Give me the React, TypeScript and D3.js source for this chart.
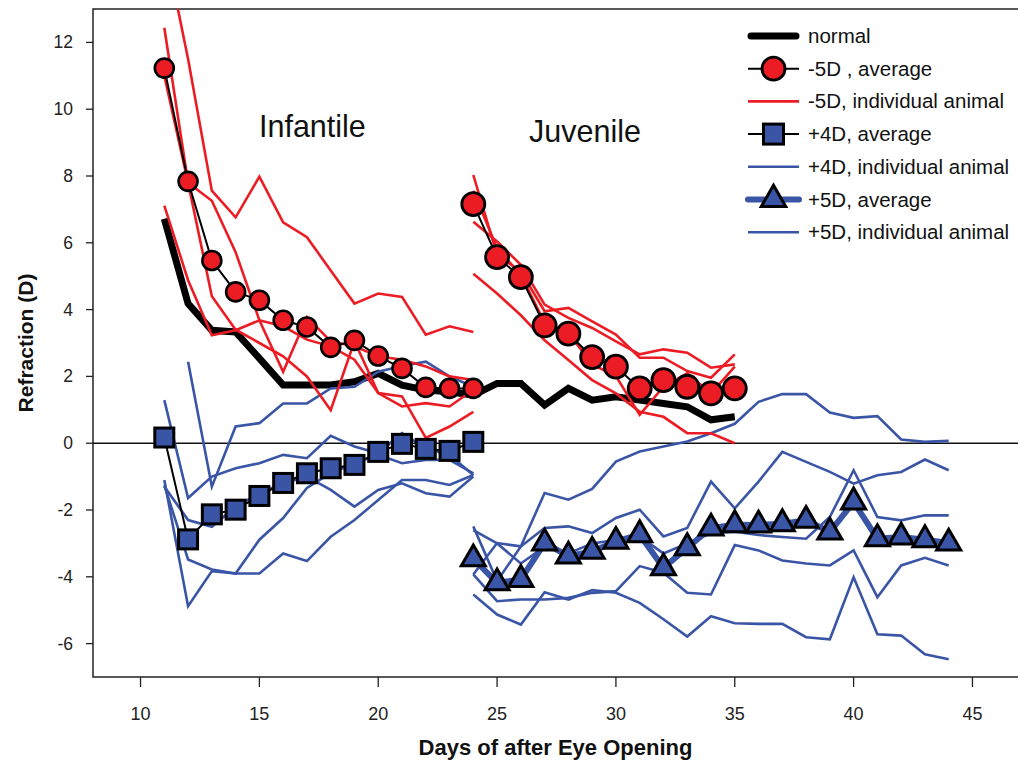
import React from 'react';
import * as d3 from 'd3';

const W = 1018, H = 764;

// days on the x axis
const infantDays = [11, 12, 13, 14, 15, 16, 17, 18, 19, 20, 21, 22, 23, 24];
const juvDays = [24, 25, 26, 27, 28, 29, 30, 31, 32, 33, 34, 35];
const lateDays = [24, 25, 26, 27, 28, 29, 30, 31, 32, 33, 34, 35, 36, 37, 38, 39, 40, 41, 42, 43, 44];
const normalDays = [11, 12, 13, 14, 15, 16, 17, 18, 19, 20, 21, 22, 23, 24, 25, 26, 27, 28, 29, 30, 31, 32, 33, 34, 35];

// normal animals
const normal = [6.72, 4.18, 3.38, 3.33, 2.54, 1.74, 1.74, 1.74, 1.84, 2.09, 1.74, 1.59, 1.54, 1.44, 1.79, 1.79, 1.14, 1.64, 1.29, 1.39, 1.29, 1.19, 1.09, 0.70, 0.79];

// -5D, infantile and juvenile
const minus5InfAvg = [11.23, 7.84, 5.47, 4.53, 4.28, 3.68, 3.48, 2.87, 3.08, 2.61, 2.24, 1.67, 1.64, 1.64];
const minus5JuvAvg = [7.16, 5.57, 4.97, 3.53, 3.28, 2.58, 2.29, 1.64, 1.89, 1.69, 1.49, 1.64];
const minus5InfA = [15.0, 11.5, 7.56, 6.76, 7.98, 6.61, 6.17, 5.17, 4.18, 4.48, 4.38, 3.25, 3.50, 3.33];
const minus5InfB = [12.44, 7.8, 7.26, 5.72, 3.68, 2.14, 3.78, 3.05, 2.9, 2.6, 2.5, 2.3, 2.0, 1.89];
const minus5InfC = [11.0, 7.8, 4.4, 3.4, 3.0, 2.6, 2.0, 0.99, 3.05, 1.5, 1.4, 0.16, 0.5, 0.94];
const minus5InfD = [7.11, 4.88, 3.23, 3.38, 3.68, 3.5, 3.1, 2.9, 2.5, 1.5, 1.1, 1.2, 1.1, 1.6];
const minus5JuvA = [8.03, 5.64, 5.14, 3.95, 4.05, 3.65, 3.25, 2.56, 2.56, 2.16, 1.96, 2.66];
const minus5JuvB = [6.63, 6.04, 5.34, 4.15, 3.75, 3.45, 3.05, 2.66, 2.81, 2.71, 2.26, 2.36];
const minus5JuvC = [5.07, 4.48, 3.83, 3.08, 2.49, 1.89, 1.49, 0.94, 0.79, 0.3, 0.3, 0.0];
const minus5JuvD = [7.56, 5.84, 5.04, 3.61, 3.31, 2.36, 2.01, 0.85, 1.69, 2.09, 1.49, 2.29];

// +4D, infantile
const plus4Avg = [0.17, -2.88, -2.13, -1.99, -1.58, -1.19, -0.9, -0.75, -0.65, -0.26, -0.02, -0.17, -0.23, 0.04];
const plus4A = [1.29, -1.64, -1.0, -0.75, -0.6, -0.35, -0.45, 0.22, -0.1, -0.3, 0.3, -0.15, -0.35, -0.95];
const plus4B = [null, 2.44, -1.3, 0.5, 0.6, 1.19, 1.19, 1.64, 1.69, 2.14, 2.31, 2.44, 2.0, 1.69];
const plus4C = [-1.1, -4.88, -3.83, -3.9, -3.9, -3.3, -3.53, -2.8, -2.3, -1.7, -1.1, -1.1, -1.25, -0.95];
const plus4D = [-1.26, -3.48, -3.78, -3.9, -2.89, -2.24, -1.34, -0.9, -0.6, -0.35, -0.6, -0.5, -0.5, -0.9];
const plus4E = [-1.3, -2.3, -2.5, -1.9, -1.5, -1.2, -1.0, -1.4, -1.9, -1.4, -1.2, -1.5, -1.6, -1.0];

// +5D, juvenile
const plus5Avg = [-3.46, -4.18, -4.08, -2.99, -3.38, -3.24, -2.94, -2.74, -3.73, -3.13, -2.54, -2.44, -2.45, -2.41, -2.31, -2.66, -1.76, -2.86, -2.81, -2.89, -2.99];
const plus5A = [-2.49, -4.13, -3.09, -1.49, -1.69, -1.37, -0.55, -0.25, -0.1, 0.05, 0.3, 0.58, 1.24, 1.47, 1.47, 0.92, 0.76, 0.81, 0.11, 0.04, 0.07];
const plus5B = [-3.93, -2.99, -3.09, -2.54, -2.49, -2.69, -2.24, -1.99, -2.79, -2.54, -1.15, -1.95, -1.15, -0.26, -0.56, -0.86, -1.21, -0.96, -0.86, -0.49, -0.81];
const plus5C = [-3.93, -4.73, -4.68, -4.68, -4.63, -4.48, -4.43, -3.68, -3.88, -4.48, -4.53, -3.05, -3.21, -3.51, -3.6, -3.66, -3.21, -4.61, -3.66, -3.43, -3.66];
const plus5D = [-4.53, -5.13, -5.43, -4.46, -4.68, -4.4, -4.48, -4.78, -5.27, -5.79, -5.18, -5.39, -5.41, -5.41, -5.81, -5.87, -4.01, -5.72, -5.76, -6.32, -6.47];
const plus5E = [-2.6, -3.0, -3.6, -3.1, -3.3, -3.0, -2.9, -2.8, -3.3, -3.0, -2.7, -2.65, -2.75, -2.81, -2.86, -2.21, -0.81, -2.21, -2.31, -2.16, -2.16];

const yTicks = [-6, -4, -2, 0, 2, 4, 6, 8, 10, 12];
const xTicks = [10, 15, 20, 25, 30, 35, 40, 45];

const legendLabels = ['normal', '-5D , average', '-5D, individual animal', '+4D, average', '+4D, individual animal', '+5D, average', '+5D, individual animal'];

const RED = '#ec1c24';
const BLUE = '#3a55a5';
const FONT = '"Liberation Sans", Arial, sans-serif';
const NARROW = '"Liberation Sans Narrow", "Liberation Sans", Arial, sans-serif';

const App = () => {
    const margin = {left: 93, top: 9, right: 1020, bottom: 677};

    const x = d3.scaleLinear().domain([8, 47]).range([margin.left, margin.right]);
    const y = d3.scaleLinear().domain([-7, 13]).range([margin.bottom, margin.top]);

    const line = d3.line<[number, number | null]>()
        .defined(d => d[1] !== null)
        .x(d => x(d[0]))
        .y(d => y(d[1] as number));

    const path = (days: number[], vals: (number | null)[]) =>
        line(days.map((d, i) => [d, vals[i]] as [number, number | null])) || '';

    const tri = d3.symbol().type(d3.symbolTriangle).size(250)();
    const triSmall = d3.symbol().type(d3.symbolTriangle).size(260)();

    const redInd = [[infantDays, minus5InfA], [infantDays, minus5InfB], [infantDays, minus5InfC], [infantDays, minus5InfD],
        [juvDays, minus5JuvA], [juvDays, minus5JuvB], [juvDays, minus5JuvC], [juvDays, minus5JuvD]];
    const blueInd = [plus4A, plus4B, plus4C, plus4D, plus4E];
    const blueJuv = [plus5A, plus5B, plus5C, plus5D, plus5E];

    const legX0 = 748, legX1 = 799, legText = 808;
    const legY = (i: number) => 36 + i * 32.7;

    return (
        <div style={{position: 'absolute', left: 0, top: 0, width: W, height: H, overflow: 'hidden', background: '#fff'}}>
            <svg width={W} height={H} style={{display: 'block'}}>
                <defs>
                    <clipPath id="plot">
                        <rect x={margin.left} y={margin.top} width={margin.right - margin.left} height={margin.bottom - margin.top}/>
                    </clipPath>
                </defs>
                <rect width={W} height={H} fill="#fff"/>

                {/* frame */}
                <rect x={margin.left} y={margin.top} width={margin.right + 10 - margin.left} height={margin.bottom - margin.top}
                      fill="none" stroke="#222" strokeWidth={1.5}/>
                <line x1={margin.left} x2={W} y1={y(0)} y2={y(0)} stroke="#111" strokeWidth={1.6}/>

                {/* y axis */}
                {yTicks.map(t => (
                    <g key={'y' + t}>
                        <line x1={margin.left - 7} x2={margin.left} y1={y(t)} y2={y(t)} stroke="#222" strokeWidth={1.3}/>
                        <text x={73} y={y(t) + 6} textAnchor="end" fontSize={17.5} fontFamily={FONT} fill="#222">{t}</text>
                    </g>
                ))}
                <text transform={`translate(33, ${y(3)}) rotate(-90)`} textAnchor="middle" fontSize={21}
                      fontWeight="bold" fontFamily={FONT} fill="#111">Refraction (D)</text>

                {/* x axis */}
                {xTicks.map(t => (
                    <g key={'x' + t}>
                        <line x1={x(t)} x2={x(t)} y1={margin.bottom} y2={margin.bottom + 10} stroke="#222" strokeWidth={1.3}/>
                        <text x={x(t)} y={720} textAnchor="middle" fontSize={18} fontFamily={NARROW} fill="#222">{t}</text>
                    </g>
                ))}
                <text x={(margin.left + 1018) / 2} y={755} textAnchor="middle" fontSize={22} fontWeight="bold"
                      fontFamily={NARROW} fill="#111">Days of after Eye Opening</text>

                <text x={259} y={137} fontSize={30.5} fontFamily={FONT} fill="#111">Infantile</text>
                <text x={529} y={142} fontSize={30.5} fontFamily={FONT} fill="#111">Juvenile</text>

                <g clipPath="url(#plot)">
                    {/* normal */}
                    <path d={path(normalDays, normal)} fill="none" stroke="#000" strokeWidth={7} strokeLinejoin="miter"/>

                    {/* individual animals */}
                    {blueInd.map((v, i) => (
                        <path key={'b4' + i} d={path(infantDays, v)} fill="none" stroke={BLUE} strokeWidth={2.6}/>
                    ))}
                    {blueJuv.map((v, i) => (
                        <path key={'b5' + i} d={path(lateDays, v)} fill="none" stroke={BLUE} strokeWidth={2.6}/>
                    ))}
                    {redInd.map(([days, v], i) => (
                        <path key={'r' + i} d={path(days as number[], v as number[])} fill="none" stroke={RED} strokeWidth={2.6}/>
                    ))}

                    {/* averages */}
                    <path d={path(lateDays, plus5Avg)} fill="none" stroke={BLUE} strokeWidth={6}/>
                    {lateDays.map((d, i) => (
                        <path key={'t' + d} d={tri} transform={`translate(${x(d)},${y(plus5Avg[i])})`}
                              fill={BLUE} stroke="#000" strokeWidth={3} strokeLinejoin="miter"/>
                    ))}

                    <path d={path(infantDays, plus4Avg)} fill="none" stroke="#000" strokeWidth={2}/>
                    {infantDays.map((d, i) => (
                        <rect key={'s' + d} x={x(d) - 9.5} y={y(plus4Avg[i]) - 9.5} width={19} height={19}
                              fill={BLUE} stroke="#000" strokeWidth={3}/>
                    ))}

                    <path d={path(infantDays, minus5InfAvg)} fill="none" stroke="#000" strokeWidth={2}/>
                    {infantDays.map((d, i) => (
                        <circle key={'ci' + d} cx={x(d)} cy={y(minus5InfAvg[i])} r={9.5}
                                fill={RED} stroke="#000" strokeWidth={2.6}/>
                    ))}
                    <path d={path(juvDays, minus5JuvAvg)} fill="none" stroke="#000" strokeWidth={2}/>
                    {juvDays.map((d, i) => (
                        <circle key={'cj' + d} cx={x(d)} cy={y(minus5JuvAvg[i])} r={11.5}
                                fill={RED} stroke="#000" strokeWidth={2.8}/>
                    ))}
                </g>

                {/* legend */}
                {legendLabels.map((lab, i) => {
                    const ly = legY(i);
                    const cx = (legX0 + legX1) / 2;
                    let sample: React.ReactNode = null;
                    if (i === 0) {
                        sample = <line x1={legX0 + 3} x2={legX1 - 3} y1={ly} y2={ly} stroke="#000" strokeWidth={7} strokeLinecap="round"/>;
                    } else if (i === 1) {
                        sample = <g>
                            <line x1={legX0} x2={legX1} y1={ly} y2={ly} stroke="#000" strokeWidth={2}/>
                            <circle cx={cx} cy={ly} r={11.5} fill={RED} stroke="#000" strokeWidth={2.8}/>
                        </g>;
                    } else if (i === 2) {
                        sample = <line x1={legX0} x2={legX1} y1={ly} y2={ly} stroke={RED} strokeWidth={2.6}/>;
                    } else if (i === 3) {
                        sample = <g>
                            <line x1={legX0} x2={legX1} y1={ly} y2={ly} stroke="#000" strokeWidth={2}/>
                            <rect x={cx - 10} y={ly - 10} width={20} height={20} fill={BLUE} stroke="#000" strokeWidth={3}/>
                        </g>;
                    } else if (i === 5) {
                        sample = <g>
                            <line x1={legX0} x2={legX1} y1={ly} y2={ly} stroke={BLUE} strokeWidth={6} strokeLinecap="round"/>
                            <path d={triSmall} transform={`translate(${cx},${ly})`} fill={BLUE} stroke="#000" strokeWidth={3}/>
                        </g>;
                    } else {
                        sample = <line x1={legX0} x2={legX1} y1={ly} y2={ly} stroke={BLUE} strokeWidth={2.6}/>;
                    }
                    return (
                        <g key={lab}>
                            {sample}
                            <text x={legText} y={ly + 7} fontSize={20.5} fontFamily={FONT} fill="#111">{lab}</text>
                        </g>
                    );
                })}
            </svg>
        </div>
    );
};

export default App;
